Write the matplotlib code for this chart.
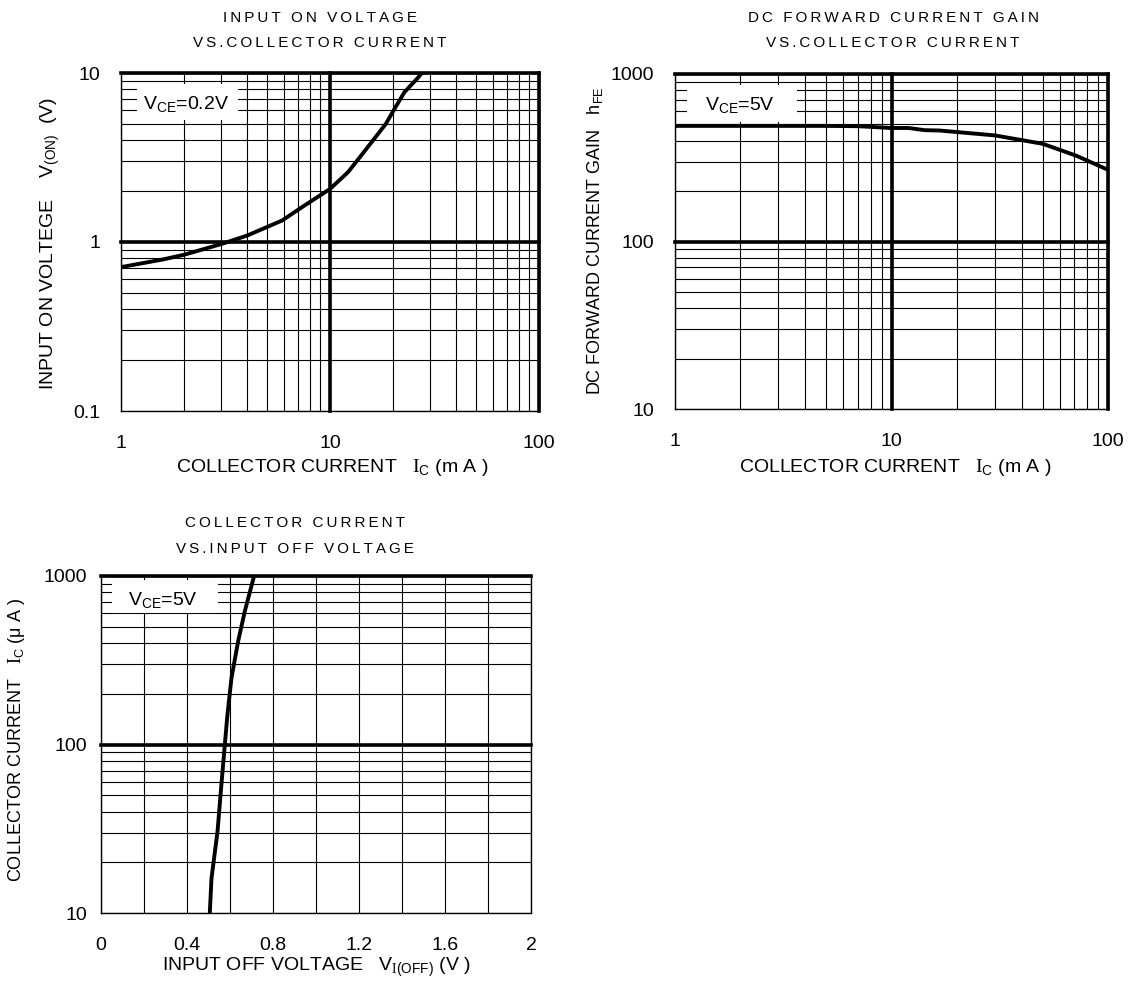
import numpy as np
import matplotlib
matplotlib.use("Agg")
import matplotlib.pyplot as plt
from matplotlib.patches import Rectangle
from matplotlib.ticker import LogLocator, NullFormatter, FixedLocator, FixedFormatter, MultipleLocator

plt.rcParams['font.family'] = ['Liberation Sans', 'DejaVu Sans']
plt.rcParams['mathtext.fontset'] = 'custom'
plt.rcParams['mathtext.rm'] = 'Liberation Serif'
plt.rcParams['mathtext.default'] = 'regular'

# Input on voltage vs collector current (VCE = 0.2 V)
ic_on = [1, 1.6, 2, 3, 4, 5.9, 7.3, 10, 12.2, 14.1, 18.5, 20.3, 22.7, 26.2, 27.5]
v_on = [0.71, 0.79, 0.84, 0.97, 1.09, 1.34, 1.6, 2.06, 2.59, 3.25, 5.0, 6.1, 7.7, 9.3, 10]

# DC forward current gain vs collector current (VCE = 5 V)
ic_hfe = [1, 3, 5, 7, 10, 12, 14.2, 16.6, 30, 50, 71, 100]
hfe = [490, 490, 490, 488, 476, 476, 462, 460, 430, 383, 326, 268]

# Collector current vs input off voltage (VCE = 5 V)
v_off = [0.506, 0.514, 0.542, 0.560, 0.576, 0.588, 0.607, 0.638, 0.669, 0.712]
ic_off = [10, 16.1, 30.5, 57.8, 100, 150, 249, 411, 619, 1000]

W, H = 1131, 983
fig = plt.figure(figsize=(W / 100, H / 100), dpi=100)


def px_axes(left, top, right, bottom):
    return fig.add_axes([left / W, 1 - bottom / H, (right - left) / W, (bottom - top) / H])


def ftext(x, y, s, **kw):
    fig.text(x / W, 1 - y / H, s, ha='center', va='center', **kw)


def spaced(s):
    # letter-spaced titles, as in the datasheet
    return '\u2009'.join(s)


def style(ax, thick_x, thick_y, ypad=15):
    ax.grid(which='both', color='black', linewidth=0.8)
    for v in thick_x:
        ax.axvline(v, color='black', linewidth=2.6, clip_on=False, zorder=2)
    for v in thick_y:
        ax.axhline(v, color='black', linewidth=2.6, clip_on=False, zorder=2)
    ax.tick_params(which='both', length=0, labelsize=14)
    ax.tick_params(axis='x', pad=17)
    ax.tick_params(axis='y', pad=ypad)
    for sp in ax.spines.values():
        sp.set_linewidth(1.0)


def legend_box(ax, x0, y0, x1, y1, tx, ty, s):
    ax.add_patch(Rectangle((x0 / W, 1 - y1 / H), (x1 - x0) / W, (y1 - y0) / H,
                           transform=fig.transFigure, facecolor='white',
                           edgecolor='none', zorder=3))
    fig.text(tx / W, 1 - ty / H, s, ha='left', va='center', fontsize=14, zorder=5)


def log_axis(axis, ticks, labels):
    axis.set_major_locator(FixedLocator(ticks))
    axis.set_major_formatter(FixedFormatter(labels))
    axis.set_minor_locator(LogLocator(base=10, subs=np.arange(2, 10)))
    axis.set_minor_formatter(NullFormatter())


# ---- top left ----
ax1 = px_axes(121, 73, 539, 411)
ax1.set_xscale('log')
ax1.set_yscale('log')
ax1.set_xlim(1, 100)
ax1.set_ylim(0.1, 10)
log_axis(ax1.xaxis, [1, 10, 100], ['1', '10', '100'])
log_axis(ax1.yaxis, [0.1, 1, 10], ['0.1', '1', '10'])
style(ax1, [10, 100], [1, 10])
ax1.plot(ic_on, v_on, color='black', linewidth=2.8, zorder=4)
legend_box(ax1, 137, 84, 238, 120, 143, 104, r"V$_{CE}$=0.2V")
ftext(320, 18, spaced("INPUT ON VOLTAGE"), fontsize=11)
ftext(320, 43, spaced("VS.COLLECTOR CURRENT"), fontsize=11)
ftext(332, 467, r"COLLECTOR CURRENT   $\mathrm{I}_{C}$ (m A )", fontsize=14)
ftext(50, 243, r"INPUT ON VOLTEGE    V$_{(ON)}$  (V)", fontsize=14, rotation=90)

# ---- top right ----
ax2 = px_axes(675, 74, 1108, 409)
ax2.set_xscale('log')
ax2.set_yscale('log')
ax2.set_xlim(1, 100)
ax2.set_ylim(10, 1000)
log_axis(ax2.xaxis, [1, 10, 100], ['1', '10', '100'])
log_axis(ax2.yaxis, [10, 100, 1000], ['10', '100', '1000'])
style(ax2, [10, 100], [100, 1000])
ax2.plot(ic_hfe, hfe, color='black', linewidth=2.8, zorder=4)
legend_box(ax2, 687, 85, 797, 122, 705, 105, r"V$_{CE}$=5V")
ftext(893, 18, spaced("DC FORWARD CURRENT GAIN"), fontsize=11)
ftext(893, 43, spaced("VS.COLLECTOR CURRENT"), fontsize=11)
ftext(895, 467, r"COLLECTOR CURRENT   $\mathrm{I}_{C}$ (m A )", fontsize=14)
ftext(595, 241, r"DC FORWARD CURRENT GAIN   h$_{FE}$", fontsize=13, rotation=90)

# ---- bottom left ----
ax3 = px_axes(101, 576, 531, 913)
ax3.set_yscale('log')
ax3.set_xlim(0, 2)
ax3.set_ylim(10, 1000)
ax3.xaxis.set_major_locator(FixedLocator([0, 0.4, 0.8, 1.2, 1.6, 2]))
ax3.xaxis.set_major_formatter(FixedFormatter(['0', '0.4', '0.8', '1.2', '1.6', '2']))
ax3.xaxis.set_minor_locator(MultipleLocator(0.2))
log_axis(ax3.yaxis, [10, 100, 1000], ['10', '100', '1000'])
style(ax3, [], [100, 1000], ypad=10)
ax3.plot(v_off, ic_off, color='black', linewidth=2.8, zorder=4)
legend_box(ax3, 112, 580, 218, 613, 128, 600, r"V$_{CE}$=5V")
ftext(295, 523, spaced("COLLECTOR CURRENT"), fontsize=11)
ftext(295, 549, spaced("VS.INPUT OFF VOLTAGE"), fontsize=11)
ftext(316, 967, r"INPUT OFF VOLTAGE   V$_{\mathrm{I}(OFF)}$ (V )", fontsize=14)
ftext(17, 740, r"COLLECTOR CURRENT   $\mathrm{I}_{C}$ ($\mu$ A )", fontsize=13, rotation=90)

fig.savefig("out.png", dpi=100)
